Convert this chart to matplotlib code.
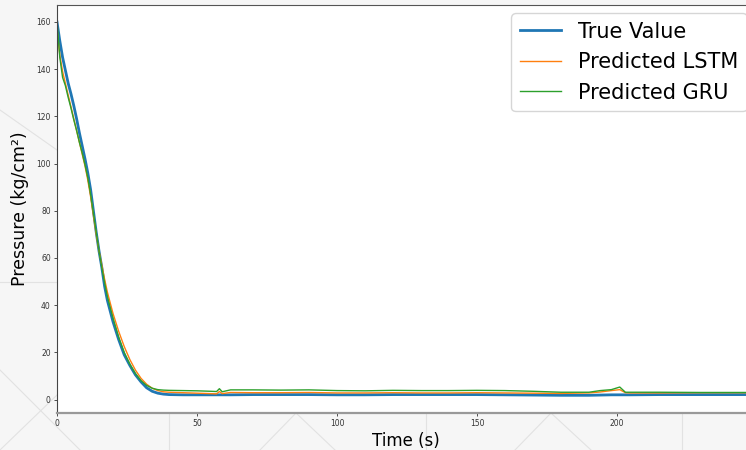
import matplotlib
matplotlib.use("Agg")
import matplotlib.pyplot as plt
from matplotlib.lines import Line2D

# time axis (s)
time_s = [0, 1, 2, 3, 4, 5, 6, 7, 8, 9, 10, 11, 12, 13, 14, 15, 16, 17, 18, 20,
          22, 24, 26, 28, 30, 32, 34, 36, 38, 40,
          45, 50, 55, 57, 58, 59, 62, 70, 80, 90, 100, 110, 120, 130, 140, 150,
          160, 170, 180, 190, 194, 198, 201, 203, 205, 215, 230, 250]

true_value = [160, 152, 145, 139.5, 134, 129.5, 124.5, 119, 113, 107.5, 102, 96, 89, 80, 71, 63, 56, 48, 42, 33,
              25.5, 19, 14.5, 10.5, 7.5, 5, 3.5, 2.7, 2.3, 2.1,
              2.0, 2.0, 2.0, 2.0, 2.0, 2.0, 2.0, 2.1, 2.1, 2.1, 2.0, 2.0, 2.1, 2.1, 2.1, 2.1,
              2.0, 1.9, 1.8, 1.8, 1.9, 2.0, 2.0, 2.0, 2.0, 2.1, 2.1, 2.1]

pred_lstm = [157, 146, 139, 134, 129, 124, 119, 114, 109, 104, 99, 93, 86, 78, 70, 63, 57, 51, 45.5, 36.5,
             29, 22.5, 17, 12.5, 9, 6.5, 4.8, 3.8, 3.3, 3.1,
             2.9, 2.7, 2.5, 2.4, 3.4, 2.5, 3.0, 2.9, 2.9, 3.0, 2.8, 2.8, 2.9, 2.8, 2.8, 2.9,
             2.8, 2.7, 2.6, 2.8, 3.2, 3.8, 4.2, 2.9, 2.8, 2.8, 2.9, 2.9]

pred_gru = [160, 145, 136.5, 133, 128, 123.5, 118.5, 114, 109, 104.5, 99.5, 94, 87, 79, 71, 63, 56, 49.5, 43.5, 34.5,
            26.5, 20, 15, 11, 8, 6, 4.8, 4.2, 4.0, 3.9,
            3.8, 3.7, 3.5, 3.4, 4.6, 3.3, 4.1, 4.1, 4.0, 4.1, 3.8, 3.7, 3.9, 3.8, 3.8, 3.9,
            3.8, 3.5, 3.1, 3.1, 3.8, 4.2, 5.3, 3.1, 3.1, 3.1, 3.0, 3.0]

fig = plt.figure(figsize=(7.46, 4.5), dpi=100)
fig.patch.set_facecolor('#f6f6f6')

# faint background pattern of the page behind the figure (pixel coords, y down)
W, H = 746.0, 450.0
bg_lines = [
    ((0, 370), (80, 450)), ((0, 450), (57, 395)), ((0, 282), (57, 282)),
    ((296, 413), (260, 450)), ((296, 413), (335, 450)), ((426, 413), (426, 450)),
    ((551, 413), (515, 450)), ((551, 413), (591, 450)), ((682, 413), (682, 450)),
    ((169, 413), (169, 450)), ((0, 110), (57, 150)),
]
for (x0, y0), (x1, y1) in bg_lines:
    fig.add_artist(Line2D([x0 / W, x1 / W], [1 - y0 / H, 1 - y1 / H],
                          transform=fig.transFigure, color='#e2e2e2', lw=0.8, zorder=0))

ax = fig.add_axes([57 / W, 37 / H, 698 / W, 408 / H])
ax.set_facecolor('white')

ax.plot(time_s, true_value, color='#1f77b4', lw=2.0, label='True Value')
ax.plot(time_s, pred_lstm, color='#ff7f0e', lw=1.0, label='Predicted LSTM')
ax.plot(time_s, pred_gru, color='#2ca02c', lw=1.0, label='Predicted GRU')

ax.set_xlim(0, 249.3)
ax.set_ylim(-5.7, 167.2)
ax.set_xticks([0, 50, 100, 150, 200])
ax.set_yticks([0, 20, 40, 60, 80, 100, 120, 140, 160])
ax.tick_params(labelsize=5.5, length=2.5, width=0.6, pad=2, colors='#333333')

ax.spines['top'].set_color('#555555')
ax.spines['left'].set_color('#444444')
ax.spines['bottom'].set_color('#999999')
ax.spines['bottom'].set_linewidth(1.6)

ax.set_xlabel('Time (s)', fontsize=12, labelpad=3)
ax.set_ylabel('Pressure (kg/cm²)', fontsize=12.5, labelpad=5)

ax.legend(loc='upper right', fontsize=15, frameon=True, borderaxespad=0.4)

fig.savefig('out.png', dpi=100, facecolor=fig.get_facecolor())
